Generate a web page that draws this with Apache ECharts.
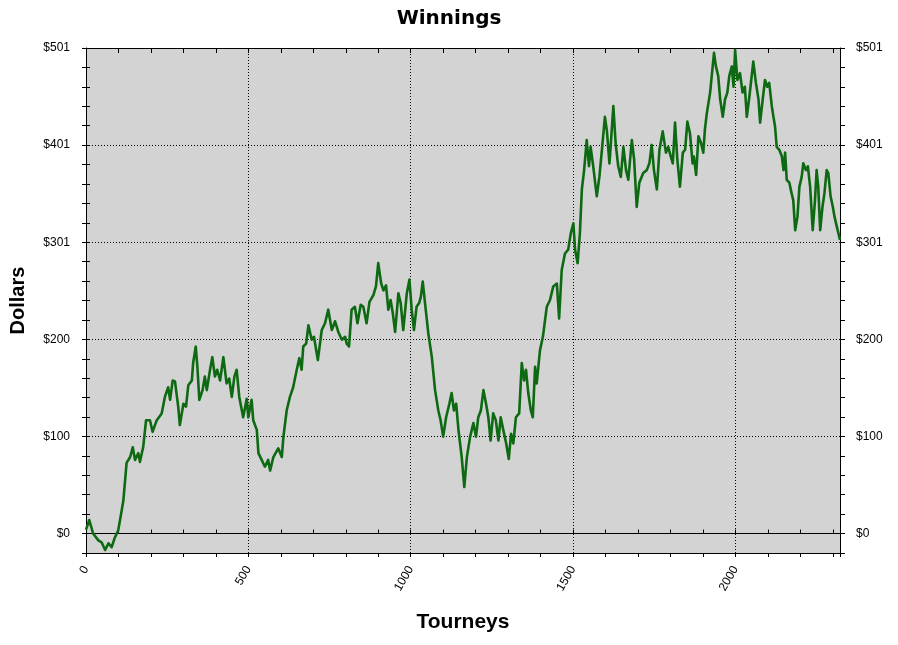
<!DOCTYPE html>
<html>
<head>
<meta charset="utf-8">
<script src="https://cdn.jsdelivr.net/npm/echarts@6/dist/echarts.min.js"></script>
<style>
html,body{margin:0;padding:0;background:#fff;}
#chart{width:898px;height:645px;}
</style>
</head>
<body>
<div id="chart"></div>
<script>
// Tourney numbers (x) and cumulative winnings in dollars (y)
const tourneys = [0,2,10,22,38,48,59,69,79,89,99,110,115,125,136,144,151,161,166,176,185,197,205,218,233,243,253,259,267,274,284,289,300,308,315,326,330,338,343,349,359,366,372,382,389,397,404,413,423,433,441,449,457,464,472,484,495,500,510,515,526,531,541,551,561,567,577,592,603,608,618,628,638,649,657,664,669,678,685,695,702,714,726,736,746,757,767,777,788,798,803,810,818,828,836,846,854,864,873,885,893,900,909,916,924,931,938,945,952,962,969,977,988,996,1003,1010,1018,1026,1031,1037,1044,1054,1065,1075,1085,1092,1100,1109,1119,1126,1133,1140,1147,1157,1165,1173,1183,1193,1201,1208,1216,1224,1232,1239,1246,1254,1262,1270,1277,1285,1294,1302,1309,1316,1324,1334,1342,1349,1355,1362,1370,1376,1383,1388,1398,1407,1419,1429,1439,1450,1457,1465,1475,1485,1493,1501,1506,1514,1521,1527,1534,1542,1549,1554,1562,1573,1581,1588,1598,1604,1612,1617,1624,1631,1639,1647,1655,1663,1670,1681,1688,1696,1704,1716,1727,1735,1742,1749,1758,1766,1776,1786,1793,1801,1807,1814,1821,1829,1838,1845,1852,1860,1868,1872,1879,1886,1894,1901,1906,1912,1922,1927,1934,1940,1947,1953,1961,1968,1975,1981,1989,1994,1999,2006,2014,2022,2029,2035,2043,2050,2055,2063,2071,2076,2084,2091,2098,2104,2112,2117,2122,2127,2135,2143,2148,2153,2158,2166,2173,2178,2184,2191,2197,2204,2209,2217,2223,2230,2238,2245,2250,2255,2261,2268,2274,2281,2286,2293,2300,2305,2312,2317,2322];
const dollars = [4,5,14,0,-7,-9,-17,-10,-14,-4,3,24,34,73,79,89,76,83,74,89,117,117,105,117,124,141,151,138,158,157,131,112,134,131,153,158,176,193,172,138,148,162,148,169,182,162,169,158,182,155,160,141,162,169,141,120,139,120,138,117,107,83,76,69,76,65,79,88,79,100,127,141,151,169,181,169,193,196,215,200,203,179,210,217,231,210,219,208,200,203,196,193,231,234,217,236,234,217,239,246,255,279,258,251,256,231,241,227,208,248,238,210,248,262,231,210,234,238,244,260,238,207,182,148,127,117,100,120,134,145,127,134,107,79,48,79,100,114,100,120,127,148,134,120,96,124,117,96,120,107,93,77,103,93,120,124,176,158,169,145,127,120,172,155,189,203,234,241,255,258,222,272,289,293,310,320,293,279,310,355,375,406,379,399,379,348,368,393,430,416,382,406,441,403,379,368,399,375,365,406,386,337,362,372,375,382,401,375,355,396,415,393,399,389,382,424,386,358,393,396,425,413,382,389,370,410,403,393,417,434,455,472,496,482,472,448,430,448,455,472,482,461,499,468,475,455,461,430,451,472,487,465,448,424,448,468,461,465,441,430,420,399,396,389,375,393,365,362,351,344,313,327,358,368,382,375,379,358,313,344,375,358,313,337,351,375,372,348,337,327,317,310,303];

// Axis ticks and labels
const xMin = 0, xMax = 2322, xMinorStep = 100;
const xGridValues = [500, 1000, 1500, 2000];
const xTickLabels = ['0', '500', '1000', '1500', '2000'];
const xLabelValues = [0, 500, 1000, 1500, 2000];
const yMin = -20.04, yMax = 501, yMinorStep = 20.04;
const yTickValues = [0, 100.2, 200.4, 300.6, 400.8, 501];
const yTickLabels = ['$0', '$100', '$200', '$301', '$401', '$501'];

const points = tourneys.map((t, i) => [t, dollars[i]]);

const FONT = '"Liberation Sans", Arial, sans-serif';

function yLabel(v) {
  for (let i = 0; i < yTickValues.length; i++) {
    if (Math.abs(v - yTickValues[i]) < 0.01) return yTickLabels[i];
  }
  return '';
}
function xLabel(v) {
  for (let i = 0; i < xLabelValues.length; i++) {
    if (Math.abs(v - xLabelValues[i]) < 0.01) return xTickLabels[i];
  }
  return '';
}

const lineBlack = { color: '#000', width: 1 };

function xAx(extra) {
  return Object.assign({
    type: 'value', min: xMin, max: xMax, interval: xMinorStep,
    splitLine: { show: false },
    axisLine: { show: false, lineStyle: lineBlack },
    axisTick: { show: false },
    axisLabel: { show: false }
  }, extra);
}
function yAx(extra) {
  return Object.assign({
    type: 'value', min: yMin, max: yMax, interval: yMinorStep,
    splitLine: { show: false },
    axisLine: { show: false, lineStyle: lineBlack },
    axisTick: { show: false },
    axisLabel: { show: false }
  }, extra);
}

const gridLines = [];
gridLines.push({ yAxis: 0, lineStyle: { type: 'solid', color: '#000', width: 1 } });
yTickValues.slice(1, yTickValues.length - 1).forEach(v => gridLines.push({ yAxis: v }));
xGridValues.forEach(v => gridLines.push({ xAxis: v }));

const chart = echarts.init(document.getElementById('chart'), null, { renderer: 'canvas' });
chart.setOption({
  animation: false,
  backgroundColor: '#fff',
  textStyle: { fontFamily: FONT },
  title: {
    text: 'Winnings', left: 'center', top: 4,
    textStyle: { fontFamily: '"DejaVu Sans", sans-serif', fontSize: 20, fontWeight: 'bold', color: '#000' }
  },
  grid: {
    left: 86, right: 58, top: 48, bottom: 92,
    show: true, backgroundColor: '#d3d3d3', borderWidth: 0
  },
  xAxis: [
    xAx({
      position: 'bottom',
      name: 'Tourneys', nameLocation: 'middle', nameGap: 59,
      nameTextStyle: { fontFamily: FONT, fontSize: 21, fontWeight: 'bold', color: '#000' },
      axisLine: { show: true, onZero: false, lineStyle: lineBlack },
      axisTick: { show: true, inside: false, length: 4, lineStyle: lineBlack },
      axisLabel: { show: true, rotate: 60, margin: 14, formatter: xLabel,
        fontFamily: FONT, fontSize: 12, color: '#000', showMaxLabel: true, showMinLabel: true }
    }),
    xAx({ position: 'bottom', axisTick: { show: true, inside: true, length: 4, lineStyle: lineBlack } }),
    xAx({ position: 'top',
      axisLine: { show: true, onZero: false, lineStyle: lineBlack },
      axisTick: { show: true, inside: true, length: 5, lineStyle: lineBlack } })
  ],
  yAxis: [
    yAx({
      position: 'left',
      name: 'Dollars', nameLocation: 'middle', nameGap: 58, nameRotate: 90,
      nameTextStyle: { fontFamily: FONT, fontSize: 20, fontWeight: 'bold', color: '#000' },
      axisLine: { show: true, onZero: false, lineStyle: lineBlack },
      axisTick: { show: true, inside: false, length: 4, lineStyle: lineBlack },
      axisLabel: { show: true, margin: 16, formatter: yLabel,
        fontFamily: FONT, fontSize: 12, color: '#000' }
    }),
    yAx({ position: 'left', axisTick: { show: true, inside: true, length: 4, lineStyle: lineBlack } }),
    yAx({
      position: 'right',
      axisLine: { show: true, onZero: false, lineStyle: lineBlack },
      axisTick: { show: true, inside: false, length: 5, lineStyle: lineBlack },
      axisLabel: { show: true, margin: 16, formatter: yLabel,
        fontFamily: FONT, fontSize: 12, color: '#000' }
    }),
    yAx({ position: 'right', axisTick: { show: true, inside: true, length: 3, lineStyle: lineBlack } })
  ],
  series: [
    {
      type: 'line', xAxisIndex: 0, yAxisIndex: 0, z: 1,
      data: points, showSymbol: false, silent: true,
      lineStyle: { opacity: 0, width: 0 },
      markLine: {
        silent: true, symbol: ['none', 'none'], animation: false,
        label: { show: false },
        lineStyle: { color: '#000', width: 1, type: [1, 2] },
        emphasis: { disabled: true },
        data: gridLines
      }
    },
    {
      type: 'line', xAxisIndex: 0, yAxisIndex: 0, z: 10,
      data: points, showSymbol: false, symbol: 'none',
      lineStyle: { color: '#0e6a12', width: 2.6, join: 'round' }
    }
  ]
});
</script>
</body>
</html>
